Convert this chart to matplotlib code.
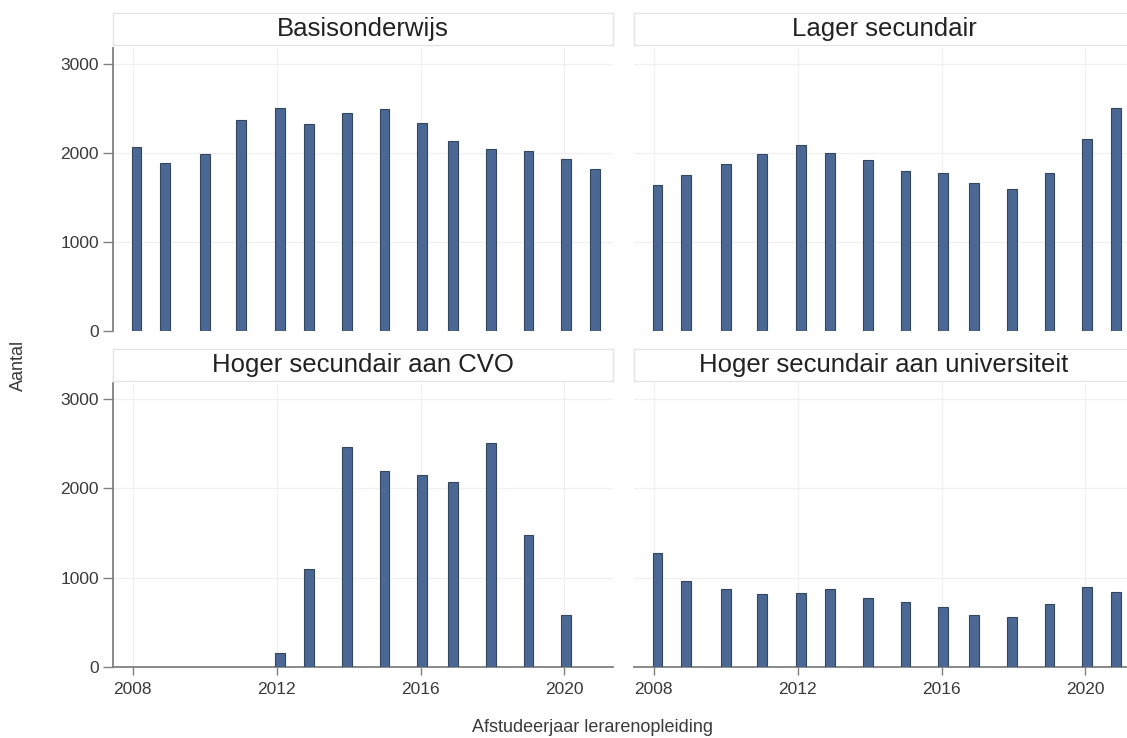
import numpy as np
import matplotlib
matplotlib.use('Agg')
import matplotlib.pyplot as plt

plt.rcParams['font.family'] = ['Liberation Sans', 'DejaVu Sans']

years = [2008.1, 2008.9, 2010.0, 2011.0, 2012.1, 2012.9, 2013.95,
         2015.0, 2016.05, 2016.9, 2017.95, 2019.0, 2020.05, 2020.85]

basis = [2065, 1890, 1985, 2370, 2505, 2320, 2450,
         2490, 2335, 2135, 2045, 2020, 1935, 1820]
lager_sec = [1635, 1750, 1870, 1990, 2090, 2000, 1915,
             1800, 1775, 1660, 1590, 1775, 2150, 2500]
hoger_cvo = [0, 0, 0, 0, 155, 1095, 2455,
             2195, 2150, 2065, 2505, 1480, 580, 0]
hoger_univ = [1275, 960, 875, 820, 828, 870, 768,
              723, 673, 580, 563, 704, 898, 842]

panel_titles = ['Basisonderwijs', 'Lager secundair',
                'Hoger secundair aan CVO', 'Hoger secundair aan universiteit']
xticks = [2008, 2012, 2016, 2020]
yticks = [0, 1000, 2000, 3000]

BAR_FILL = '#4b6894'
BAR_EDGE = '#34455f'
AXIS_COL = '#808080'
GRID_COL = '#f0f0f0'
TEXT_COL = '#3a3a3a'

W, H = 1127, 738


def px_box(left, top, right, bottom):
    # pixel box -> figure fraction [l, b, w, h]
    return [left / W, 1 - bottom / H, (right - left) / W, (bottom - top) / H]


def draw_panel(fig, box, strip_box, title, values, show_y, show_x):
    ax = fig.add_axes(box)
    vals = np.array(values, dtype=float)
    xs = np.array(years)
    mask = vals > 0
    ax.bar(xs[mask], vals[mask], width=0.27, color=BAR_FILL,
           edgecolor=BAR_EDGE, linewidth=0.8, zorder=3)
    ax.set_xlim(2007.45, 2021.35)
    ax.set_ylim(0, 3175)
    ax.set_xticks(xticks)
    ax.set_yticks(yticks)
    ax.grid(True, color=GRID_COL, linewidth=0.9, zorder=0)
    for s in ['top', 'right']:
        ax.spines[s].set_visible(False)
    ax.spines['left'].set_visible(show_y)
    ax.spines['bottom'].set_visible(show_x)
    ax.spines['left'].set_color(AXIS_COL)
    ax.spines['bottom'].set_color(AXIS_COL)
    ax.spines['left'].set_linewidth(1.3)
    ax.spines['bottom'].set_linewidth(1.3)
    ax.tick_params(axis='y', length=7 if show_y else 0, width=1.0,
                   color=AXIS_COL, labelsize=12.5, labelcolor=TEXT_COL,
                   pad=3, labelleft=show_y)
    ax.tick_params(axis='x', length=6 if show_x else 0, width=1.0,
                   color=AXIS_COL, labelsize=12.5, labelcolor=TEXT_COL,
                   pad=5, labelbottom=show_x)

    sx = fig.add_axes(strip_box)
    sx.set_xticks([])
    sx.set_yticks([])
    for s in sx.spines.values():
        s.set_color('#e4e4e4')
        s.set_linewidth(1.0)
    sx.text(0.5, 0.5, title, ha='center', va='center', fontsize=18.5,
            color='#222222', transform=sx.transAxes)
    return ax


def plot_data():
    fig = plt.figure(figsize=(W / 100, H / 100), dpi=100)
    fig.patch.set_facecolor('white')

    draw_panel(fig, px_box(113, 48, 613, 331), px_box(113, 13, 613, 45),
               panel_titles[0], basis, True, False)
    draw_panel(fig, px_box(634, 48, 1134, 331), px_box(634, 13, 1134, 45),
               panel_titles[1], lager_sec, False, False)
    draw_panel(fig, px_box(113, 383, 613, 667), px_box(113, 349, 613, 381),
               panel_titles[2], hoger_cvo, True, True)
    draw_panel(fig, px_box(634, 383, 1134, 667), px_box(634, 349, 1134, 381),
               panel_titles[3], hoger_univ, False, True)

    fig.text(18 / W, 1 - 365 / H, 'Aantal', rotation=90, ha='center',
             va='center', fontsize=13, color=TEXT_COL)
    fig.text(592 / W, 1 - 728 / H, 'Afstudeerjaar lerarenopleiding',
             ha='center', va='center', fontsize=13, color=TEXT_COL)

    fig.savefig('out.png', dpi=100, facecolor='white')


if __name__ == '__main__':
    plot_data()
